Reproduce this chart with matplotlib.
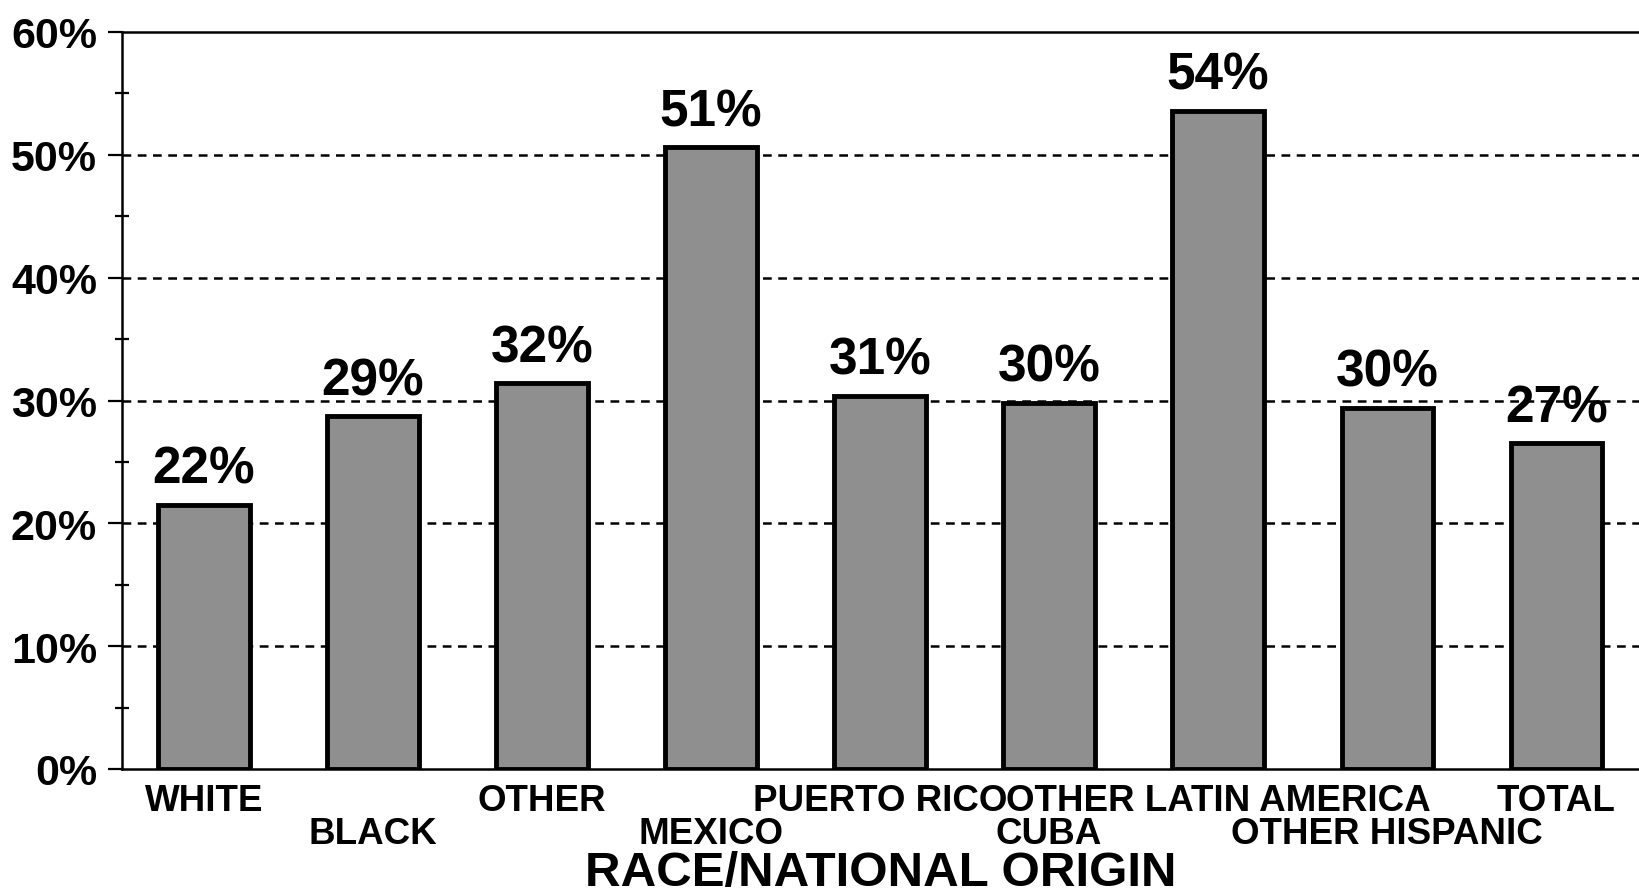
import matplotlib
matplotlib.use("Agg")
import matplotlib.pyplot as plt
from matplotlib.ticker import MultipleLocator, FuncFormatter

categories = ["WHITE", "BLACK", "OTHER", "MEXICO", "PUERTO RICO", "CUBA",
              "OTHER LATIN AMERICA", "OTHER HISPANIC", "TOTAL"]
values = [21.5, 28.7, 31.4, 50.6, 30.4, 29.8, 53.6, 29.4, 26.5]
value_labels = ["22%", "29%", "32%", "51%", "31%", "30%", "54%", "30%", "27%"]
y_ticks = [0, 10, 20, 30, 40, 50, 60]
x_title = "RACE/NATIONAL ORIGIN"

plt.rcParams['font.family'] = ['Liberation Sans', 'DejaVu Sans']
plt.rcParams['font.weight'] = 'bold'

fig = plt.figure(figsize=(16.39, 8.95), dpi=100)
ax = fig.add_axes([122/1639, 1-770/895, 1-122/1639, (770-33)/895])

x = list(range(len(categories)))
ax.bar(x, values, width=0.54, color='#8f8f8f', edgecolor='black',
       linewidth=3.5, zorder=3)

for xi, v, lab in zip(x, values, value_labels):
    ax.annotate(lab, (xi, v), xytext=(0, 8), textcoords='offset points',
                ha='center', va='bottom', fontsize=37, fontweight='bold')

ax.set_xlim(-0.485, 8.49)
ax.set_ylim(0, 60)
ax.set_yticks(y_ticks)
ax.yaxis.set_major_formatter(FuncFormatter(lambda v, p: f"{int(v)}%"))
ax.yaxis.set_minor_locator(MultipleLocator(5))
ax.tick_params(axis='y', which='major', direction='out', length=10, width=1.6,
               labelsize=31, pad=8)
ax.tick_params(axis='y', which='minor', direction='inout', length=10, width=1.6)
for lbl in ax.get_yticklabels():
    lbl.set_fontweight('bold')

for g in y_ticks[1:-1]:
    ax.axhline(g, color='black', lw=1.8, linestyle=(0, (3.5, 2.6)), zorder=1)

ax.set_xticks(x)
ax.set_xticklabels(categories, fontsize=26.5, fontweight='bold')
ax.tick_params(axis='x', length=0)
for i, t in enumerate(ax.xaxis.get_major_ticks()):
    t.set_pad(10 if i % 2 == 0 else 34)

ax.set_xlabel(x_title, fontsize=35.5, fontweight='bold', va='baseline')
ax.xaxis.set_label_coords(0.5, -116/737)

for s in ['left', 'bottom', 'top']:
    ax.spines[s].set_linewidth(1.8)
ax.spines['right'].set_visible(False)

fig.savefig("out.png", dpi=100)
